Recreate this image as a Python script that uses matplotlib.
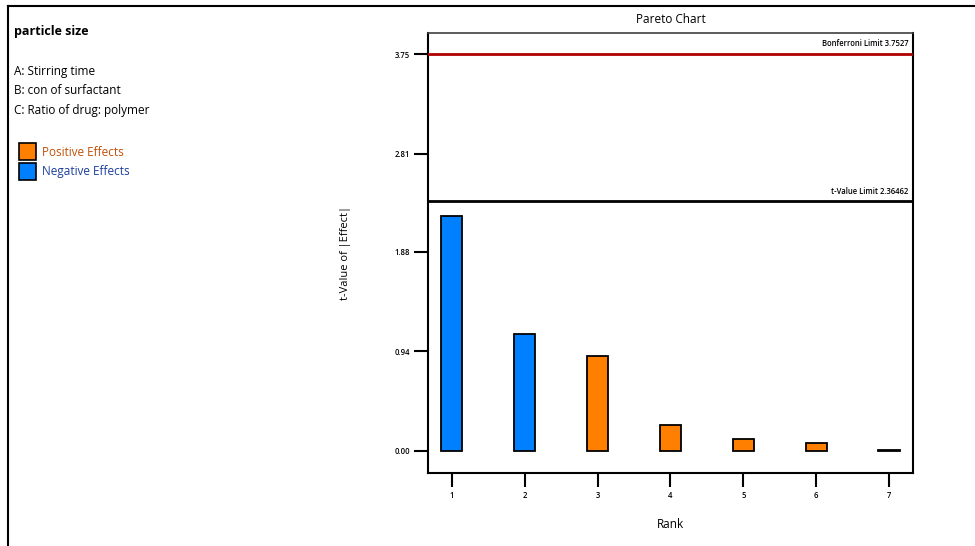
import matplotlib
matplotlib.use('Agg')
import matplotlib.pyplot as plt
from matplotlib.lines import Line2D
from matplotlib.patches import Rectangle

plt.rcParams['font.family'] = ['Open Sans', 'DejaVu Sans']

#==============================================================================
# Data
#==============================================================================

ranks = [1, 2, 3, 4, 5, 6, 7]
t_values = [2.219, 1.100, 0.891, 0.244, 0.114, 0.070, 0.006]
effects = ['neg', 'neg', 'pos', 'pos', 'pos', 'pos', 'pos']
yticks = [0.00, 0.94, 1.88, 2.81, 3.75]
bonferroni = 3.7527
t_limit = 2.36462
factors = ['A: Stirring time', 'B: con of surfactant',
           'C: Ratio of drug: polymer']
response = 'particle size'

pos_color = '#ff8000'
neg_color = '#0080ff'

#==============================================================================
# Figure
#==============================================================================

fig = plt.figure(figsize=(9.75, 5.46), dpi=100)
W, H = 975., 546.

def fx(px):
    return px / W

def fy(py):
    return 1 - py / H

# outer frame (top and left only visible)
fig.add_artist(Line2D([fx(8), fx(8)], [fy(6), 0], color='black', lw=1.5))
fig.add_artist(Line2D([fx(8), 1], [fy(6), fy(6)], color='black', lw=1.5))

# left side annotations
fig.text(fx(14), fy(31), response, fontsize=9, fontweight='bold', va='center')
for i, f in enumerate(factors):
    fig.text(fx(14), fy(71 + 20 * i), f, fontsize=8.5, va='center')

fig.add_artist(Rectangle((fx(19), fy(160)), fx(17), 17 / H,
                         facecolor=pos_color, edgecolor='black', lw=1.2))
fig.add_artist(Rectangle((fx(19), fy(180)), fx(17), 17 / H,
                         facecolor=neg_color, edgecolor='black', lw=1.2))
fig.text(fx(42), fy(152), 'Positive Effects', fontsize=8.5, va='center',
         color='#c0500a')
fig.text(fx(42), fy(171), 'Negative Effects', fontsize=8.5, va='center',
         color='#1c3f9e')

# main axes
ax = fig.add_axes([fx(428), fy(473), fx(913 - 428), (473 - 33) / H])
colors = [pos_color if e == 'pos' else neg_color for e in effects]
ax.bar(ranks, t_values, width=0.29, color=colors, edgecolor='black',
       linewidth=1.3, zorder=2)

ax.axhline(bonferroni, color='#b00000', lw=2, zorder=3)
ax.axhline(t_limit, color='black', lw=2, zorder=3)
ax.text(0.99, bonferroni + 0.06, 'Bonferroni Limit 3.7527',
        transform=ax.get_yaxis_transform(), ha='right', va='bottom',
        fontsize=5.5, fontweight='semibold')
ax.text(0.99, t_limit + 0.04, 't-Value Limit 2.36462',
        transform=ax.get_yaxis_transform(), ha='right', va='bottom',
        fontsize=5.5, fontweight='semibold')

ax.set_xlim(0.672, 7.33)
ax.set_ylim(-0.212, 3.95)
ax.set_xticks(ranks)
ax.set_yticks(yticks)
ax.set_yticklabels(['{:.2f}'.format(v) for v in yticks])
ax.tick_params(axis='both', direction='out', length=10, width=1.5,
               labelsize=5.5, pad=3)
for lbl in ax.get_xticklabels() + ax.get_yticklabels():
    lbl.set_fontweight('semibold')
for side in ['left', 'bottom', 'right']:
    ax.spines[side].set_linewidth(1.5)
ax.spines['top'].set_linewidth(1.2)
ax.spines['top'].set_color('#404040')

ax.set_title('Pareto Chart', fontsize=8.5, pad=7.5)
ax.set_xlabel('Rank', fontsize=8.5)
ax.set_ylabel('t-Value of |Effect|', fontsize=8)
ax.xaxis.set_label_coords(0.5, -0.103)
ax.yaxis.set_label_coords(-0.159, 0.5)

fig.savefig('out.png', dpi=100)
